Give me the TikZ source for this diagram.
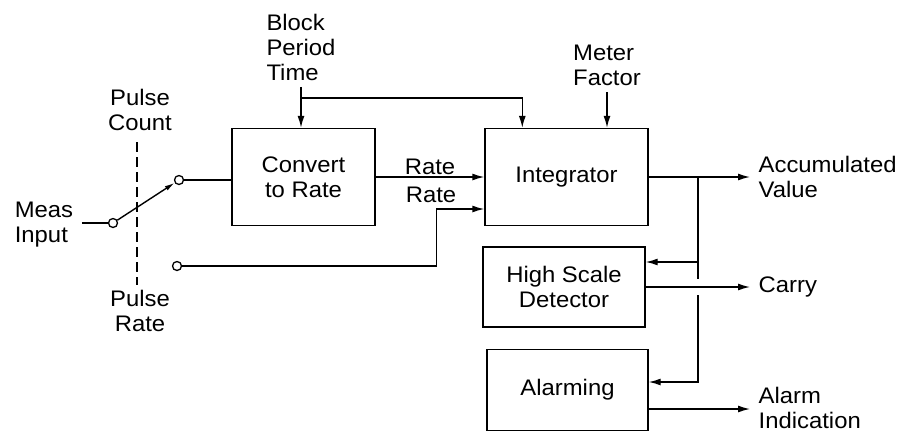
\documentclass[tikz,border=0pt]{standalone}
\usepackage{fontspec}
\setmainfont[FakeStretch=1.06]{Liberation Sans}
\usetikzlibrary{arrows.meta}

\begin{document}
\begin{tikzpicture}[x=1pt,y=-1pt,line width=1.4pt,
  box/.style={draw,align=center,inner sep=0pt,font=\fontsize{22.5}{25}\selectfont},
  lbl/.style={align=left,inner sep=2pt,font=\fontsize{22.5}{25}\selectfont},
  outlbl/.style={lbl,anchor=west,inner xsep=8pt},
  contact/.style={draw,circle,minimum size=9pt,inner sep=0pt,line width=1.3pt},
  arr/.style={-{Latex[length=12pt,width=7pt]}}]
  \useasboundingbox (0,0) rectangle (902,432);
  % blocks
  \node[box,minimum width=143pt,minimum height=97pt] (conv) at (303.5,177) {Convert\\to Rate};
  \node[box,minimum width=163pt,minimum height=97pt] (integ) at (566.5,177) {Integrator};
  \node[box,minimum width=162pt,minimum height=80pt] (hsd) at (564,287) {High Scale\\Detector};
  \node[box,minimum width=161pt,minimum height=81pt] (alarm) at (567.5,390) {Alarming};
  % switch
  \node[lbl] (meas) at (44,225) {Meas\\Input};
  \node[contact] (sw) at (113,223) {};
  \node[contact] (sa) at (179,180) {};
  \node[contact] (sb) at (177,266) {};
  \draw ([xshift=6pt]meas.east |- sw) -- (sw);
  \draw[-{Latex[length=10pt,width=5pt]}] (sw) -- (sa);
  \draw (sa) -- (sa -| conv.west);
  \node[lbl,align=center] (pc) at (140,110) {Pulse\\Count};
  \node[lbl,align=center] (pr) at (140,311) {Pulse\\Rate};
  \coordinate (dtop) at (137,142);
  \coordinate (dbot) at (137,285);
  \draw[line width=1.3pt,dash pattern=on 10pt off 5pt] (dtop) -- (dbot);
  % inputs from above
  \node[lbl] (bpt) at (301,47) {Block\\Period\\Time};
  \node[lbl] (mf) at (607,65) {Meter\\Factor};
  \coordinate (bptap) at (bpt.south |- 0,98);
  \draw[arr] ([yshift=-4pt]bpt.south) -- (bpt.south |- conv.north);
  \draw[arr] (bptap) -| ([xshift=38pt]integ.north west);
  \draw[arr] ([yshift=-4pt]mf.south) -- (mf.south |- integ.north);
  % rate signals
  \draw[arr] (conv.east) -- (conv.east -| integ.west) node[midway,above,lbl] (rate1) {Rate};
  \coordinate (r2) at ([yshift=-32pt]integ.west);
  \draw[arr] (sb) -| ([xshift=-48pt]r2) -- (r2);
  \node[lbl] (rate2) at (431,195) {Rate};
  % outputs
  \node[outlbl] (av) at (750,177) {Accumulated\\Value};
  \node[outlbl] (carry) at (750,287) {Carry};
  \node[outlbl] (ai) at (750,408) {Alarm\\Indication};
  \coordinate (jn) at (698,177);
  \coordinate (hin) at ([yshift=25pt]hsd.east);
  \coordinate (aout) at ([yshift=-19pt]alarm.east);
  \draw[arr] (integ.east) -- (av.west);
  \draw (jn) -- ([yshift=8pt]jn |- hsd.east);
  \draw[arr] (hin -| jn) -- (hin);
  \draw[arr] ([yshift=-8pt]jn |- hsd.east) |- ([yshift=8pt]alarm.east);
  \draw[arr] (hsd.east) -- (carry.west);
  \draw[arr] (aout) -- (aout -| ai.west);
\end{tikzpicture}
\end{document}
